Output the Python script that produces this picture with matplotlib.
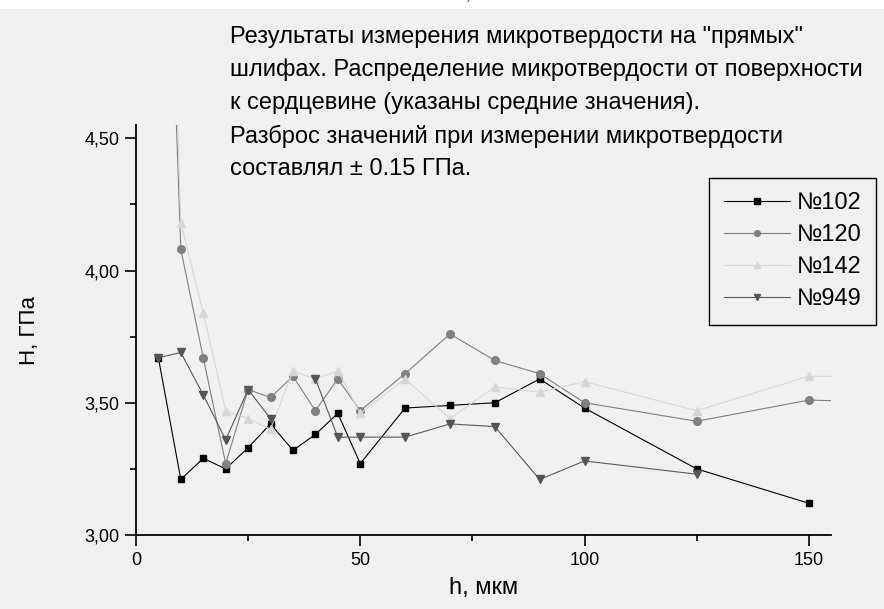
import numpy as np
import matplotlib
matplotlib.use("Agg")
import matplotlib.pyplot as plt
from matplotlib.ticker import MultipleLocator, FuncFormatter
from matplotlib.patches import Rectangle

plt.rcParams['font.family'] = ['Liberation Sans', 'DejaVu Sans']

# глубина от поверхности, мкм
h_102 = [5, 10, 15, 20, 25, 30, 35, 40, 45, 50, 60, 70, 80, 90, 100, 125, 150]
H_102 = [3.67, 3.21, 3.29, 3.25, 3.33, 3.42, 3.32, 3.38, 3.46, 3.27, 3.48, 3.49, 3.50, 3.59, 3.48, 3.25, 3.12]

h_120 = [5, 10, 15, 20, 25, 30, 35, 40, 45, 50, 60, 70, 80, 90, 100, 125, 150, 200]
H_120 = [6.48, 4.08, 3.67, 3.27, 3.55, 3.52, 3.60, 3.47, 3.59, 3.47, 3.61, 3.76, 3.66, 3.61, 3.50, 3.43, 3.51, 3.49]

h_142 = [5, 10, 15, 20, 25, 30, 35, 40, 45, 50, 60, 70, 80, 90, 100, 125, 150, 200]
H_142 = [6.9, 4.18, 3.84, 3.47, 3.44, 3.40, 3.62, 3.59, 3.62, 3.46, 3.59, 3.44, 3.56, 3.54, 3.58, 3.47, 3.60, 3.60]

h_949 = [5, 10, 15, 20, 25, 30, 35, 40, 45, 50, 60, 70, 80, 90, 100, 125]
H_949 = [3.67, 3.69, 3.53, 3.36, 3.55, 3.44, np.nan, 3.59, 3.37, 3.37, 3.37, 3.42, 3.41, 3.21, 3.28, 3.23]

labels = ["№102", "№120", "№142", "№949"]

note = ('Результаты измерения микротвердости на "прямых"\n'
        'шлифах. Распределение микротвердости от поверхности\n'
        'к сердцевине (указаны средние значения).\n'
        'Разброс значений при измерении микротвердости\n'
        'составлял ± 0.15 ГПа.')

fig = plt.figure(figsize=(8.84, 6.09), dpi=100, facecolor='#f0f0f0')
fig.patches.append(Rectangle((0, 0.985), 1, 0.015, transform=fig.transFigure,
                             facecolor='white', edgecolor='none', zorder=0))
fig.text(0.531, 0.996, ')', fontsize=9, ha='center', va='bottom', color='#444444')

ax = fig.add_axes([0.1538, 0.1215, 0.7865, 0.6732])
ax.set_facecolor('#f0f0f0')

ax.plot(h_102, H_102, color='black', lw=0.8, marker='s', ms=5, mfc='black', mec='black', label=labels[0])
ax.plot(h_120, H_120, color='#808080', lw=0.8, marker='o', ms=5.5, mfc='#808080', mec='#808080', label=labels[1])
ax.plot(h_142, H_142, color='#d6d6d6', lw=0.8, marker='^', ms=6, mfc='#d6d6d6', mec='#d6d6d6', label=labels[2])
ax.plot(h_949, H_949, color='#5a5a5a', lw=0.8, marker='v', ms=6, mfc='#555555', mec='#555555', label=labels[3])

ax.set_xlim(0, 155)
ax.set_ylim(3.0, 4.55)

for s in ['top', 'right']:
    ax.spines[s].set_visible(False)
for s in ['left', 'bottom']:
    ax.spines[s].set_linewidth(1.3)

ax.xaxis.set_major_locator(MultipleLocator(50))
ax.xaxis.set_minor_locator(MultipleLocator(25))
ax.yaxis.set_major_locator(MultipleLocator(0.5))
ax.yaxis.set_minor_locator(MultipleLocator(0.25))
ax.yaxis.set_major_formatter(FuncFormatter(lambda v, p: f"{v:.2f}".replace('.', ',')))
ax.tick_params(which='major', direction='out', length=8, width=1.2, labelsize=13, pad=4)
ax.tick_params(which='minor', direction='out', length=4.5, width=1.2)

ax.set_xlabel("h, мкм", fontsize=17, labelpad=6)
ax.set_ylabel("H, ГПа", fontsize=16, labelpad=32)

leg = ax.legend(loc='upper right', bbox_to_anchor=(1.065, 0.872), fontsize=17,
                frameon=True, fancybox=False, handlelength=2.8, handletextpad=0.3,
                labelspacing=0.42, borderpad=0.62, borderaxespad=0, markerscale=0.75)
leg.get_frame().set_edgecolor('black')
leg.get_frame().set_linewidth(1.0)
leg.get_frame().set_facecolor('#f0f0f0')
leg.get_frame().set_alpha(1)

fig.text(0.26, 0.957, note, fontsize=17, ha='left', va='top', linespacing=1.61)

fig.savefig('out.png', dpi=100, facecolor=fig.get_facecolor())
